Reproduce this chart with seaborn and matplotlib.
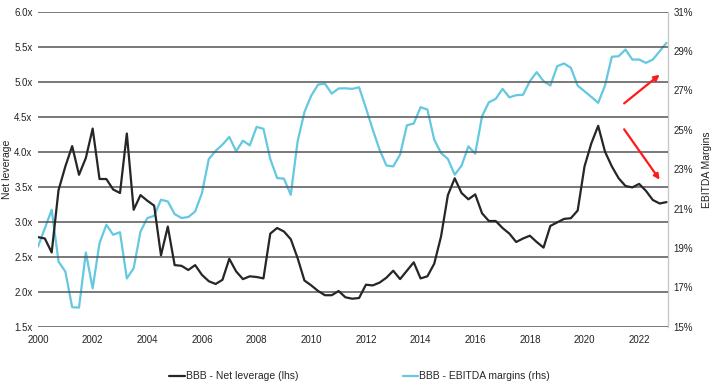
import numpy as np
import pandas as pd
import matplotlib
matplotlib.use("Agg")
import matplotlib.pyplot as plt
import seaborn as sns

# Quarterly data, 2000Q1 - 2023Q1
quarters = pd.period_range("2000Q1", "2023Q1", freq="Q")
net_leverage = [
    2.78, 2.76, 2.56, 3.45, 3.79, 4.08, 3.67, 3.91, 4.33, 3.61, 3.61, 3.46, 3.41, 4.26,
    3.17, 3.38, 3.30, 3.23, 2.52, 2.93, 2.38, 2.37, 2.31, 2.38, 2.24, 2.15, 2.11, 2.17,
    2.47, 2.29, 2.18, 2.22, 2.21, 2.19, 2.83, 2.91, 2.86, 2.75, 2.48, 2.16, 2.09, 2.01,
    1.95, 1.95, 2.01, 1.92, 1.90, 1.91, 2.10, 2.09, 2.13, 2.20, 2.30, 2.18, 2.30, 2.42,
    2.19, 2.22, 2.40, 2.79, 3.38, 3.62, 3.41, 3.32, 3.39, 3.12, 3.01, 3.01, 2.91, 2.83,
    2.71, 2.76, 2.80, 2.71, 2.63, 2.94, 2.99, 3.04, 3.05, 3.16, 3.79, 4.12, 4.37, 4.00,
    3.79, 3.62, 3.51, 3.49, 3.54, 3.44, 3.31, 3.26, 3.28,
]
ebitda_margin = [
    19.07, 20.00, 20.94, 18.31, 17.80, 15.99, 15.97, 18.77, 16.95, 19.24, 20.18, 19.67,
    19.80, 17.45, 17.97, 19.83, 20.52, 20.63, 21.45, 21.36, 20.72, 20.52, 20.57, 20.85,
    21.79, 23.52, 23.93, 24.25, 24.64, 23.91, 24.45, 24.21, 25.15, 25.05, 23.52, 22.55,
    22.52, 21.70, 24.41, 25.90, 26.74, 27.30, 27.34, 26.84, 27.10, 27.11, 27.08, 27.16,
    26.11, 25.01, 23.99, 23.19, 23.14, 23.74, 25.23, 25.32, 26.15, 26.03, 24.50, 23.82,
    23.52, 22.72, 23.18, 24.16, 23.79, 25.69, 26.40, 26.57, 27.08, 26.65, 26.76, 26.78,
    27.47, 27.93, 27.47, 27.25, 28.23, 28.37, 28.15, 27.24, 26.96, 26.67, 26.37, 27.25,
    28.71, 28.74, 29.08, 28.57, 28.57, 28.40, 28.57, 28.99, 29.42,
]
lev_label = "BBB - Net leverage (lhs)"
mar_label = "BBB - EBITDA margins (rhs)"
x_ticks = list(range(2000, 2023, 2))
lev_ticks = [1.5, 2.0, 2.5, 3.0, 3.5, 4.0, 4.5, 5.0, 5.5, 6.0]
mar_ticks = [15, 17, 19, 21, 23, 25, 27, 29, 31]
# trend arrows (year, lhs value): start -> end
arrow_up = [(2021.45, 4.69), (2022.75, 5.10)]
arrow_down = [(2021.45, 4.32), (2022.75, 3.60)]

year = quarters.year + (quarters.quarter - 1) / 4.0
df = pd.DataFrame({"year": year, "lev": net_leverage, "margin": ebitda_margin})

sns.set_theme(style="white")
plt.rcParams["font.family"] = ["Liberation Sans Narrow", "Liberation Sans", "DejaVu Sans"]

fig = plt.figure(figsize=(7.12, 3.86), dpi=100)
ax = fig.add_axes([0.0534, 0.1536, 0.8846, 0.8161])
ax2 = ax.twinx()

black = "#262626"
cyan = "#64C8E0"

sns.lineplot(data=df, x="year", y="lev", ax=ax, color=black, lw=1.6, label=lev_label, legend=False)
sns.lineplot(data=df, x="year", y="margin", ax=ax2, color=cyan, lw=1.6, label=mar_label, legend=False)

ax.set_xlim(2000, 2023.05)
ax.set_ylim(1.5, 6.0)
ax2.set_ylim(15, 31)
ax.set_xticks(x_ticks)
ax.set_xticklabels([str(t) for t in x_ticks], fontsize=7)
ax.set_yticks(lev_ticks)
ax.set_yticklabels([f"{t:.1f}x" for t in lev_ticks], fontsize=7)
ax2.set_yticks(mar_ticks)
ax2.set_yticklabels([f"{t}%" for t in mar_ticks], fontsize=7)

ax.grid(axis="y", color="#555555", lw=1.1)
ax.grid(axis="x", visible=False)
ax2.grid(False)
ax.set_axisbelow(True)
ax.set_zorder(ax2.get_zorder() + 1)
ax.patch.set_visible(False)

for a in (ax, ax2):
    for s in ("top", "left", "bottom", "right"):
        a.spines[s].set_visible(False)
ax2.spines["right"].set_visible(True)
ax2.spines["right"].set_color("#c8c8c8")
ax2.spines["right"].set_linewidth(1.0)

ax.tick_params(axis="both", length=0, pad=4, colors="#222222")
ax2.tick_params(axis="y", length=0, pad=4, colors="#222222")
ax.tick_params(axis="x", pad=6)

ax.set_xlabel("")
ax.set_ylabel("Net leverage", fontsize=7.5, color="#222222")
ax2.set_ylabel("EBITDA Margins", fontsize=7.5, color="#222222")
ax.yaxis.set_label_coords(-0.041, 0.5)
ax2.yaxis.set_label_coords(1.055, 0.5)

for (s, e) in (arrow_up, arrow_down):
    ax.annotate("", xy=e, xytext=s,
                arrowprops=dict(arrowstyle="-|>", color="#ff1a1a", lw=1.6,
                                mutation_scale=8, shrinkA=0, shrinkB=0))

h1, l1 = ax.get_legend_handles_labels()
h2, l2 = ax2.get_legend_handles_labels()
fig.legend(h1 + h2, l1 + l2, loc="center", bbox_to_anchor=(0.505, 0.025), ncol=2,
           frameon=False, fontsize=7.5, handlelength=1.5, handletextpad=0.1,
           columnspacing=10)

fig.savefig("out.png", dpi=100)
